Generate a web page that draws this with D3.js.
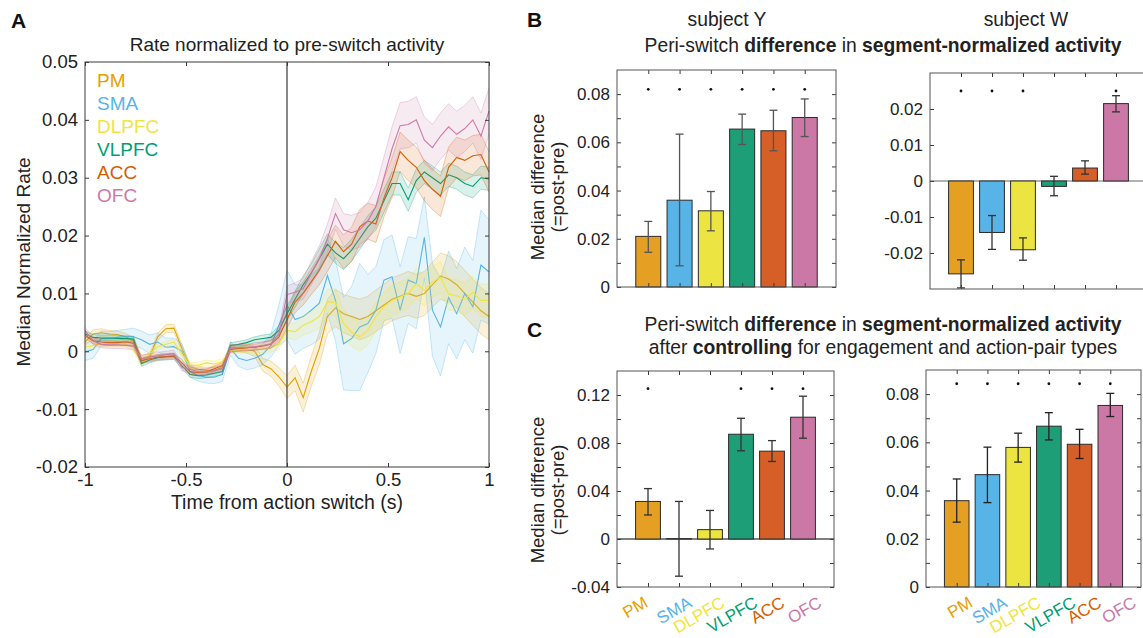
<!DOCTYPE html>
<html>
<head>
<meta charset="utf-8">
<script src="https://cdn.jsdelivr.net/npm/d3@7"></script>
<style>
body { margin: 0; background: #fff; }
svg { font-family: "Liberation Sans", Arial, Helvetica, sans-serif; }
</style>
</head>
<body>
<div class="chart"></div>
<script>
// ---- data ----
var regions = ['PM', 'SMA', 'DLPFC', 'VLPFC', 'ACC', 'OFC'];
var lineColors = ['#E69F00', '#56B4E9', '#F0E442', '#009E73', '#D55E00', '#CC79A7'];
var barColors = ['#E5A023', '#58B3E6', '#ECE440', '#1D9E76', '#D55F26', '#CC78A6'];
var barPositions = [1, 2, 3, 4, 5, 6];

var timePoints = [-1, -0.96, -0.92, -0.88, -0.84, -0.8, -0.76, -0.72, -0.68, -0.64,
	-0.6, -0.56, -0.52, -0.48, -0.44, -0.4, -0.36, -0.32, -0.28, -0.24,
	-0.2, -0.16, -0.12, -0.08, -0.04, 0, 0.04, 0.08, 0.12, 0.16,
	0.2, 0.24, 0.28, 0.32, 0.36, 0.4, 0.44, 0.48, 0.52, 0.56,
	0.6, 0.64, 0.68, 0.72, 0.76, 0.8, 0.84, 0.88, 0.92, 0.96, 1];

var pmRate = [0.0016, 0.0030, 0.0032, 0.0030, 0.0029, 0.0025, 0.0018, -0.0013, -0.0010, 0.0025,
	0.0039, 0.0040, 0.0005, -0.0027, -0.0031, -0.0033, -0.0033, -0.0028, 0.0006, 0.0005,
	0.0004, 0.0000, -0.0023, -0.0030, -0.0044, -0.0062, -0.0046, -0.0080, -0.0035, 0.0005,
	0.0060, 0.0075, 0.0065, 0.0060, 0.0055, 0.0060, 0.0070, 0.0080, 0.0090, 0.0095,
	0.0100, 0.0095, 0.0100, 0.0115, 0.0130, 0.0125, 0.0115, 0.0100, 0.0085, 0.0070, 0.0060];
var pmSem = [0.0006, 0.0007, 0.0007, 0.0006, 0.0006, 0.0006, 0.0006, 0.0006, 0.0006, 0.0006,
	0.0007, 0.0007, 0.0006, 0.0005, 0.0005, 0.0005, 0.0005, 0.0005, 0.0006, 0.0006,
	0.0007, 0.0009, 0.0011, 0.0013, 0.0016, 0.0020, 0.0022, 0.0025, 0.0026, 0.0028,
	0.0030, 0.0032, 0.0033, 0.0034, 0.0035, 0.0035, 0.0036, 0.0036, 0.0037, 0.0037,
	0.0038, 0.0038, 0.0038, 0.0039, 0.0040, 0.0040, 0.0040, 0.0040, 0.0040, 0.0040, 0.0040];

var smaRate = [-0.0001, 0.0003, 0.0022, 0.0022, 0.0024, 0.0025, 0.0025, 0.0020, 0.0012, 0.0016,
	0.0007, 0.0008, 0.0000, -0.0035, -0.0042, -0.0045, -0.0045, -0.0040, 0.0005, -0.0012,
	-0.0016, -0.0012, -0.0005, 0.0010, 0.0045, 0.0080, 0.0055, 0.0060, 0.0071, 0.0083,
	0.0131, 0.0088, 0.0013, 0.0022, 0.0042, 0.0048, 0.0071, 0.0123, 0.0129, 0.0071,
	0.0123, 0.0117, 0.0197, 0.0071, 0.0042, 0.0093, 0.0065, 0.0100, 0.0077, 0.0149, 0.0137];
var smaSem = [0.0015, 0.0015, 0.0013, 0.0012, 0.0012, 0.0013, 0.0015, 0.0015, 0.0016, 0.0016,
	0.0016, 0.0015, 0.0013, 0.0010, 0.0010, 0.0010, 0.0011, 0.0012, 0.0012, 0.0014,
	0.0016, 0.0017, 0.0018, 0.0020, 0.0035, 0.0060, 0.0060, 0.0055, 0.0060, 0.0062,
	0.0065, 0.0070, 0.0080, 0.0090, 0.0110, 0.0085, 0.0075, 0.0070, 0.0072, 0.0075,
	0.0075, 0.0078, 0.0070, 0.0080, 0.0085, 0.0080, 0.0078, 0.0080, 0.0080, 0.0095, 0.0090];

var dlpfcRate = [0.0007, 0.0010, 0.0013, 0.0013, 0.0013, 0.0013, 0.0005, -0.0021, -0.0005, 0.0008,
	0.0012, 0.0016, -0.0005, -0.0025, -0.0024, -0.0020, -0.0022, -0.0018, 0.0002, 0.0002,
	0.0003, 0.0003, 0.0004, 0.0006, 0.0012, 0.0036, 0.0034, 0.0045, 0.0051, 0.0060,
	0.0085, 0.0085, 0.0048, 0.0033, 0.0025, 0.0036, 0.0060, 0.0077, 0.0088, 0.0094,
	0.0100, 0.0117, 0.0105, 0.0120, 0.0128, 0.0099, 0.0096, 0.0090, 0.0102, 0.0088, 0.0088];
var dlpfcSem = [0.0005, 0.0005, 0.0005, 0.0005, 0.0005, 0.0005, 0.0005, 0.0005, 0.0005, 0.0005,
	0.0005, 0.0005, 0.0005, 0.0005, 0.0005, 0.0005, 0.0005, 0.0005, 0.0005, 0.0005,
	0.0005, 0.0005, 0.0006, 0.0007, 0.0009, 0.0012, 0.0015, 0.0017, 0.0018, 0.0020,
	0.0022, 0.0023, 0.0024, 0.0024, 0.0025, 0.0025, 0.0025, 0.0025, 0.0026, 0.0026,
	0.0026, 0.0026, 0.0027, 0.0027, 0.0027, 0.0027, 0.0028, 0.0028, 0.0028, 0.0028, 0.0028];

var vlpfcRate = [0.0030, 0.0024, 0.0023, 0.0023, 0.0022, 0.0022, 0.0021, -0.0021, -0.0015, -0.0011,
	-0.0010, -0.0009, -0.0025, -0.0040, -0.0042, -0.0041, -0.0038, -0.0035, 0.0010, 0.0012,
	0.0015, 0.0020, 0.0022, 0.0024, 0.0036, 0.0065, 0.0090, 0.0115, 0.0135, 0.0160,
	0.0185, 0.0170, 0.0160, 0.0175, 0.0195, 0.0215, 0.0230, 0.0260, 0.0290, 0.0290,
	0.0262, 0.0295, 0.0310, 0.0300, 0.0290, 0.0305, 0.0300, 0.0290, 0.0285, 0.0300, 0.0298];
var vlpfcSem = [0.0005, 0.0005, 0.0005, 0.0005, 0.0005, 0.0005, 0.0005, 0.0005, 0.0005, 0.0005,
	0.0005, 0.0005, 0.0005, 0.0005, 0.0005, 0.0005, 0.0005, 0.0005, 0.0005, 0.0005,
	0.0005, 0.0005, 0.0006, 0.0006, 0.0008, 0.0012, 0.0014, 0.0015, 0.0016, 0.0017,
	0.0018, 0.0018, 0.0019, 0.0019, 0.0019, 0.0019, 0.0020, 0.0020, 0.0020, 0.0020,
	0.0020, 0.0020, 0.0020, 0.0020, 0.0020, 0.0020, 0.0020, 0.0020, 0.0020, 0.0020, 0.0020];

var accRate = [0.0028, 0.0018, 0.0016, 0.0015, 0.0015, 0.0016, 0.0014, -0.0016, -0.0013, -0.0010,
	-0.0009, -0.0008, -0.0020, -0.0035, -0.0037, -0.0036, -0.0030, -0.0025, 0.0003, 0.0005,
	0.0006, 0.0007, 0.0009, 0.0012, 0.0025, 0.0055, 0.0085, 0.0100, 0.0120, 0.0140,
	0.0165, 0.0190, 0.0172, 0.0185, 0.0215, 0.0225, 0.0220, 0.0265, 0.0300, 0.0345,
	0.0330, 0.0318, 0.0295, 0.0280, 0.0268, 0.0318, 0.0335, 0.0330, 0.0338, 0.0340, 0.0310];
var accSem = [0.0005, 0.0005, 0.0005, 0.0005, 0.0005, 0.0005, 0.0005, 0.0005, 0.0005, 0.0005,
	0.0005, 0.0005, 0.0005, 0.0005, 0.0005, 0.0005, 0.0005, 0.0005, 0.0005, 0.0005,
	0.0005, 0.0005, 0.0006, 0.0007, 0.0010, 0.0015, 0.0018, 0.0020, 0.0022, 0.0025,
	0.0027, 0.0028, 0.0029, 0.0030, 0.0030, 0.0031, 0.0032, 0.0033, 0.0034, 0.0034,
	0.0035, 0.0035, 0.0035, 0.0035, 0.0035, 0.0035, 0.0035, 0.0035, 0.0035, 0.0035, 0.0035];

var ofcRate = [0.0036, 0.0018, 0.0012, 0.0011, 0.0011, 0.0010, 0.0009, -0.0013, -0.0010, -0.0008,
	-0.0006, -0.0004, -0.0028, -0.0031, -0.0035, -0.0036, -0.0033, -0.0030, 0.0005, 0.0006,
	0.0007, 0.0008, 0.0010, 0.0013, 0.0030, 0.0098, 0.0102, 0.0108, 0.0135, 0.0160,
	0.0195, 0.0238, 0.0210, 0.0205, 0.0210, 0.0225, 0.0250, 0.0300, 0.0350, 0.0390,
	0.0392, 0.0400, 0.0365, 0.0352, 0.0372, 0.0388, 0.0375, 0.0385, 0.0400, 0.0372, 0.0415];
var ofcSem = [0.0006, 0.0006, 0.0006, 0.0006, 0.0006, 0.0006, 0.0006, 0.0006, 0.0006, 0.0006,
	0.0006, 0.0006, 0.0006, 0.0006, 0.0006, 0.0006, 0.0006, 0.0006, 0.0006, 0.0006,
	0.0006, 0.0006, 0.0006, 0.0007, 0.0010, 0.0015, 0.0016, 0.0018, 0.0020, 0.0022,
	0.0025, 0.0027, 0.0028, 0.0030, 0.0030, 0.0032, 0.0034, 0.0036, 0.0038, 0.0040,
	0.0040, 0.0040, 0.0040, 0.0040, 0.0040, 0.0040, 0.0040, 0.0040, 0.0040, 0.0040, 0.0040];

var aYTicks = [-0.02, -0.01, 0, 0.01, 0.02, 0.03, 0.04, 0.05];
var aXTicks = [-1, -0.5, 0, 0.5, 1];

// B: subject Y / subject W
var subjYMedian = [0.0210, 0.0360, 0.0316, 0.0655, 0.0648, 0.0703];
var subjYLow = [0.0144, 0.0088, 0.0233, 0.0591, 0.0565, 0.0624];
var subjYHigh = [0.0272, 0.0634, 0.0396, 0.0717, 0.0733, 0.0780];
var subjYSig = [1, 1, 1, 1, 1, 1];
var subjYTicks = [0, 0.01, 0.02, 0.03, 0.04, 0.05, 0.06, 0.07, 0.08];
var subjYLabels = [0, 0.02, 0.04, 0.06, 0.08];

var subjWMedian = [-0.0258, -0.0143, -0.0191, -0.0015, 0.0036, 0.0215];
var subjWLow = [-0.0297, -0.0190, -0.0220, -0.0041, 0.0019, 0.0192];
var subjWHigh = [-0.0219, -0.0096, -0.0158, 0.0013, 0.0056, 0.0237];
var subjWSig = [1, 1, 1, 0, 0, 1];
var subjWTicks = [-0.02, -0.01, 0, 0.01, 0.02];
var subjWLabels = [-0.02, -0.01, 0, 0.01, 0.02];

// C: after controlling
var ctrlYMedian = [0.0313, 0.0003, 0.0078, 0.0873, 0.0732, 0.1015];
var ctrlYLow = [0.0200, -0.0310, -0.0083, 0.0735, 0.0646, 0.0840];
var ctrlYHigh = [0.0420, 0.0313, 0.0238, 0.1006, 0.0820, 0.1190];
var ctrlYSig = [1, 0, 0, 1, 1, 1];
var ctrlYTicks = [-0.04, -0.02, 0, 0.02, 0.04, 0.06, 0.08, 0.1, 0.12];
var ctrlYLabels = [-0.04, 0, 0.04, 0.08, 0.12];

var ctrlWMedian = [0.0358, 0.0466, 0.0579, 0.0667, 0.0592, 0.0753];
var ctrlWLow = [0.0269, 0.0350, 0.0518, 0.0610, 0.0533, 0.0707];
var ctrlWHigh = [0.0448, 0.0580, 0.0638, 0.0723, 0.0654, 0.0803];
var ctrlWSig = [1, 1, 1, 1, 1, 1];
var ctrlWTicks = [0, 0.01, 0.02, 0.03, 0.04, 0.05, 0.06, 0.07, 0.08];
var ctrlWLabels = [0, 0.02, 0.04, 0.06, 0.08];

// ---- drawing ----
var w = 1143, h = 638;
var axisColor = '#3a3a3a';

var svg = d3.select('.chart').append('svg')
	.attr('width', w)
	.attr('height', h);

function fmtTick(labels) {
	return function(d) {
		var hit = labels.some(function(l) { return Math.abs(l - d) < 1e-9; });
		return hit ? String(+d.toFixed(4)) : '';
	};
}

function styleAxis(g, size) {
	g.attr('font-family', null).attr('font-size', size).attr('color', axisColor);
	g.select('.domain').remove();
	g.selectAll('text').attr('fill', '#222');
}

// panel A: rate time course
var ax = d3.scaleLinear().domain([-1, 1]).range([85, 489]);
var ay = d3.scaleLinear().domain([-0.02, 0.05]).range([467, 62]);

var rateSeries = [
	{ rate: pmRate, sem: pmSem },
	{ rate: smaRate, sem: smaSem },
	{ rate: dlpfcRate, sem: dlpfcSem },
	{ rate: vlpfcRate, sem: vlpfcSem },
	{ rate: accRate, sem: accSem },
	{ rate: ofcRate, sem: ofcSem }
];

var gA = svg.append('g');

rateSeries.forEach(function(s, k) {
	var pts = timePoints.map(function(t, i) {
		return { t: t, m: s.rate[i], e: s.sem[i] };
	});
	gA.append('path')
		.datum(pts)
		.attr('d', d3.area()
			.x(function(d) { return ax(d.t); })
			.y0(function(d) { return ay(d.m - d.e); })
			.y1(function(d) { return ay(d.m + d.e); }))
		.attr('fill', lineColors[k])
		.attr('fill-opacity', 0.15);
	[-1, 1].forEach(function(sign) {
		gA.append('path')
			.datum(pts)
			.attr('d', d3.line()
				.x(function(d) { return ax(d.t); })
				.y(function(d) { return ay(d.m + sign * d.e); }))
			.attr('fill', 'none')
			.attr('stroke', lineColors[k])
			.attr('stroke-opacity', 0.35)
			.attr('stroke-width', 0.9);
	});
	gA.append('path')
		.datum(pts)
		.attr('d', d3.line()
			.x(function(d) { return ax(d.t); })
			.y(function(d) { return ay(d.m); }))
		.attr('fill', 'none')
		.attr('stroke', lineColors[k])
		.attr('stroke-width', 1.1);
});

gA.append('line')
	.attr('x1', ax(0)).attr('x2', ax(0))
	.attr('y1', ay(0.05)).attr('y2', ay(-0.02))
	.attr('stroke', '#555')
	.attr('stroke-width', 1.4);

gA.append('g')
	.attr('transform', 'translate(' + ax(-1) + ',0)')
	.call(d3.axisLeft(ay).tickValues(aYTicks).tickSize(-4).tickPadding(7).tickFormat(fmtTick(aYTicks)))
	.call(styleAxis, 18.5);
gA.append('g')
	.attr('transform', 'translate(' + ax(1) + ',0)')
	.call(d3.axisRight(ay).tickValues(aYTicks).tickSize(-4).tickFormat(''))
	.call(styleAxis, 18.5);
gA.append('g')
	.attr('transform', 'translate(0,' + ay(-0.02) + ')')
	.call(d3.axisBottom(ax).tickValues(aXTicks).tickSize(-4).tickPadding(6).tickFormat(fmtTick(aXTicks)))
	.call(styleAxis, 18.5);
gA.append('g')
	.attr('transform', 'translate(0,' + ay(0.05) + ')')
	.call(d3.axisTop(ax).tickValues(aXTicks).tickSize(-4).tickFormat(''))
	.call(styleAxis, 18.5);

gA.append('rect')
	.attr('x', ax(-1)).attr('y', ay(0.05))
	.attr('width', ax(1) - ax(-1)).attr('height', ay(-0.02) - ay(0.05))
	.attr('fill', 'none').attr('stroke', axisColor).attr('stroke-width', 1);

gA.selectAll('text.legend')
	.data(regions)
	.enter().append('text')
	.attr('class', 'legend')
	.attr('x', 97)
	.attr('y', function(d, i) { return 87 + i * 23; })
	.attr('font-size', 19)
	.attr('fill', function(d, i) { return lineColors[i]; })
	.text(function(d) { return d; });

gA.append('text')
	.attr('x', 287).attr('y', 51)
	.attr('text-anchor', 'middle').attr('font-size', 19).attr('fill', '#222')
	.text('Rate normalized to pre-switch activity');
gA.append('text')
	.attr('x', 287).attr('y', 509)
	.attr('text-anchor', 'middle').attr('font-size', 19.5).attr('fill', '#222')
	.text('Time from action switch (s)');
gA.append('text')
	.attr('transform', 'translate(30,262) rotate(-90)')
	.attr('text-anchor', 'middle').attr('font-size', 19).attr('fill', '#222')
	.text('Median Normalized Rate');

// bar panels
function drawBars(p) {
	var x = d3.scaleLinear().domain([0, 7]).range([p.left, p.right]);
	var y = d3.scaleLinear().domain(p.yDomain).range([p.bottom, p.top]);
	var g = svg.append('g');
	var bw = (x(1) - x(0)) * 0.8;

	if (p.yDomain[0] < 0) {
		g.append('line')
			.attr('x1', p.left).attr('x2', p.right)
			.attr('y1', y(0)).attr('y2', y(0))
			.attr('stroke', p.zeroColor).attr('stroke-width', 1.3);
	}

	g.selectAll('rect.bar')
		.data(p.median)
		.enter().append('rect')
		.attr('class', 'bar')
		.attr('x', function(d, i) { return x(barPositions[i]) - bw / 2; })
		.attr('y', function(d) { return y(Math.max(0, d)); })
		.attr('width', bw)
		.attr('height', function(d) { return Math.abs(y(d) - y(0)); })
		.attr('fill', function(d, i) { return barColors[i]; })
		.attr('stroke', '#2a2a2a')
		.attr('stroke-width', 1);

	var eg = g.selectAll('g.err')
		.data(p.median)
		.enter().append('g')
		.attr('class', 'err')
		.attr('stroke', p.errColor)
		.attr('stroke-width', 1.3);
	eg.append('line')
		.attr('x1', function(d, i) { return x(barPositions[i]); })
		.attr('x2', function(d, i) { return x(barPositions[i]); })
		.attr('y1', function(d, i) { return y(p.low[i]); })
		.attr('y2', function(d, i) { return y(p.high[i]); });
	[p.low, p.high].forEach(function(arr) {
		eg.append('line')
			.attr('x1', function(d, i) { return x(barPositions[i]) - 4; })
			.attr('x2', function(d, i) { return x(barPositions[i]) + 4; })
			.attr('y1', function(d, i) { return y(arr[i]); })
			.attr('y2', function(d, i) { return y(arr[i]); });
	});

	var sigPos = barPositions.filter(function(b, i) { return p.sig[i] === 1; });
	g.selectAll('circle.sig')
		.data(sigPos)
		.enter().append('circle')
		.attr('class', 'sig')
		.attr('cx', function(d) { return x(d); })
		.attr('cy', y(p.sigLevel))
		.attr('r', 1.4)
		.attr('fill', '#111');

	g.append('g')
		.attr('transform', 'translate(' + p.left + ',0)')
		.call(d3.axisLeft(y).tickValues(p.ticks).tickSize(-4).tickPadding(7).tickFormat(fmtTick(p.labels)))
		.call(styleAxis, 17);
	g.append('g')
		.attr('transform', 'translate(' + p.right + ',0)')
		.call(d3.axisRight(y).tickValues(p.ticks).tickSize(-4).tickFormat(''))
		.call(styleAxis, 17);
	g.append('g')
		.attr('transform', 'translate(0,' + p.bottom + ')')
		.call(d3.axisBottom(x).tickValues(barPositions).tickSize(-4).tickFormat(''))
		.call(styleAxis, 17);
	g.append('g')
		.attr('transform', 'translate(0,' + p.top + ')')
		.call(d3.axisTop(x).tickValues(barPositions).tickSize(-4).tickFormat(''))
		.call(styleAxis, 17);

	g.append('rect')
		.attr('x', p.left).attr('y', p.top)
		.attr('width', p.right - p.left).attr('height', p.bottom - p.top)
		.attr('fill', 'none').attr('stroke', '#555').attr('stroke-width', 1);

	if (p.catNudge) {
		g.selectAll('text.cat')
			.data(regions)
			.enter().append('text')
			.attr('class', 'cat')
			.attr('text-anchor', 'end')
			.attr('font-size', 17)
			.attr('fill', function(d, i) { return lineColors[i]; })
			.attr('transform', function(d, i) {
				return 'translate(' + (x(barPositions[i]) + p.catNudge[i] + 6) + ',' + (p.bottom + 19) + ') rotate(-30)';
			})
			.text(function(d) { return d; });
	}
	return g;
}

drawBars({ left: 617, right: 836, top: 70, bottom: 287, yDomain: [0, 0.09],
	median: subjYMedian, low: subjYLow, high: subjYHigh, sig: subjYSig, sigLevel: 0.082,
	ticks: subjYTicks, labels: subjYLabels, errColor: '#555', zeroColor: '#888' });
drawBars({ left: 930, right: 1147, top: 73, bottom: 289, yDomain: [-0.03, 0.03],
	median: subjWMedian, low: subjWLow, high: subjWHigh, sig: subjWSig, sigLevel: 0.025,
	ticks: subjWTicks, labels: subjWLabels, errColor: '#333', zeroColor: '#999' });
drawBars({ left: 617, right: 834, top: 371, bottom: 587, yDomain: [-0.04, 0.14],
	median: ctrlYMedian, low: ctrlYLow, high: ctrlYHigh, sig: ctrlYSig, sigLevel: 0.1253,
	ticks: ctrlYTicks, labels: ctrlYLabels, errColor: '#333', zeroColor: '#555',
	catNudge: [-5, 8, 10, 12, 8, 14] });
drawBars({ left: 926, right: 1141, top: 370, bottom: 587, yDomain: [0, 0.09],
	median: ctrlWMedian, low: ctrlWLow, high: ctrlWHigh, sig: ctrlWSig, sigLevel: 0.0843,
	ticks: ctrlWTicks, labels: ctrlWLabels, errColor: '#222', zeroColor: '#888',
	catNudge: [11, 15, 18, 22, 17, 21] });

// y labels for bar panels
[187, 490].forEach(function(cy) {
	svg.append('text')
		.attr('transform', 'translate(544,' + cy + ') rotate(-90)')
		.attr('text-anchor', 'middle').attr('font-size', 18.5).attr('fill', '#222')
		.text('Median difference');
	svg.append('text')
		.attr('transform', 'translate(564,' + cy + ') rotate(-90)')
		.attr('text-anchor', 'middle').attr('font-size', 18.5).attr('fill', '#222')
		.text('(=post-pre)');
});

// titles
function richText(x, y, parts) {
	var t = svg.append('text')
		.attr('x', x).attr('y', y)
		.attr('text-anchor', 'middle').attr('font-size', 19.3).attr('fill', '#222');
	parts.forEach(function(p) {
		t.append('tspan').attr('font-weight', p[1] ? 'bold' : 'normal').text(p[0]);
	});
	return t;
}

svg.append('text').attr('x', 727).attr('y', 26).attr('text-anchor', 'middle')
	.attr('font-size', 19.3).attr('fill', '#222').text('subject Y');
svg.append('text').attr('x', 1026).attr('y', 26).attr('text-anchor', 'middle')
	.attr('font-size', 19.3).attr('fill', '#222').text('subject W');

var titleParts = [['Peri-switch ', 0], ['difference', 1], [' in ', 0], ['segment-normalized activity', 1]];
richText(883, 52, titleParts);
richText(883, 331, titleParts);
richText(883, 354, [['after ', 0], ['controlling', 1], [' for engagement and action-pair types', 0]]);

// panel letters
[['A', 11, 28], ['B', 527, 27], ['C', 527, 337]].forEach(function(l) {
	svg.append('text')
		.attr('x', l[1]).attr('y', l[2])
		.attr('font-size', 21).attr('font-weight', 'bold').attr('fill', '#111')
		.text(l[0]);
});
</script>
</body>
</html>
